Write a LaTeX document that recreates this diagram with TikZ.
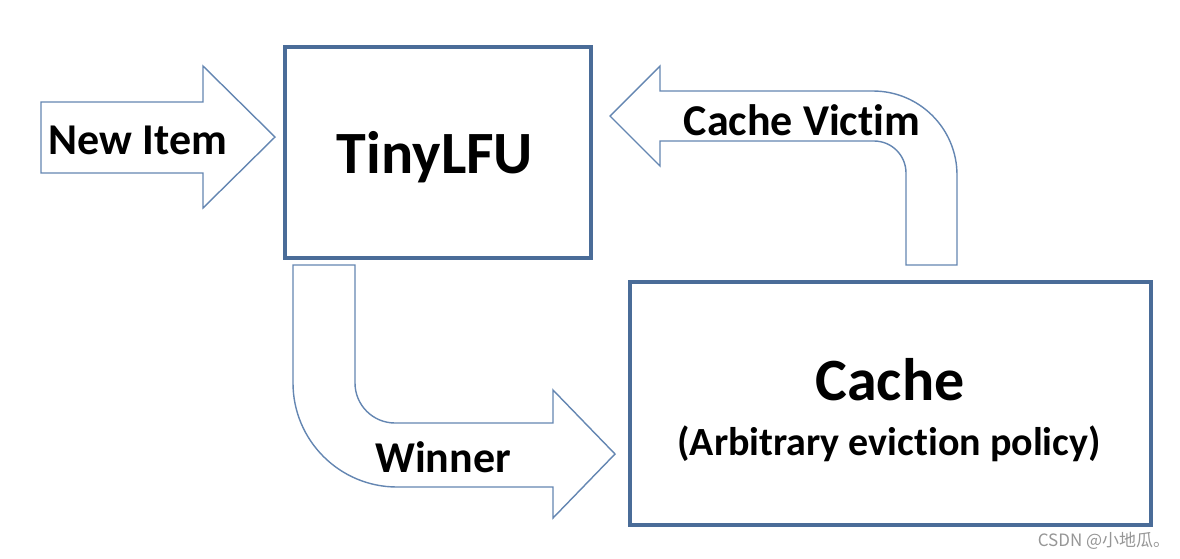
\documentclass[tikz,border=0pt]{standalone}
\usepackage{fontspec}
\newfontfamily\carl{Carlito}[BoldFont={Carlito Bold},Ligatures={NoCommon,NoDiscretionary,NoRare}]
\newfontfamily\cjk{Noto Sans CJK SC}
\definecolor{boxblue}{RGB}{74,108,152}
\definecolor{arrowblue}{RGB}{100,134,178}
\definecolor{wmgray}{RGB}{150,150,150}
\begin{document}
\begin{tikzpicture}[x=1pt,y=-1pt,
  box/.style={draw=boxblue,line width=4pt,fill=white,inner sep=0pt},
  blockarrow/.style={draw=arrowblue,line width=1.4pt,fill=white,line join=miter},
  lbl/.style={font=\carl\bfseries\fontsize{44}{50}\selectfont,inner sep=0pt,anchor=base},
  title/.style={font=\carl\bfseries\fontsize{60}{70}\selectfont,inner sep=0pt,anchor=base},
  sub/.style={font=\carl\bfseries\fontsize{40}{46}\selectfont,inner sep=0pt,anchor=base}]
\useasboundingbox[fill=white] (0,0) rectangle (1180,558);
% boxes
\node[box,minimum width=306pt,minimum height=211pt] (tiny) at (437.5,152) {};
\node[box,minimum width=521pt,minimum height=243pt] (cache) at (890.5,403.5) {};
% New Item arrow
\draw[blockarrow] (41,102) -- (203,102) -- (203,66) -- (275,137) -- (203,208) -- (203,173) -- (41,173) -- cycle;
% Cache Victim arrow
\draw[blockarrow] (610,116) -- (660,66) -- (660,91) -- (873,91)
  .. controls (919.4,91) and (957,128.6) .. (957,175) -- (957,265) -- (906,265) -- (906,173)
  .. controls (906,155.3) and (891.7,141) .. (874,141) -- (660,141) -- (660,166) -- cycle;
% Winner arrow
\draw[blockarrow] (293,265) -- (355,265) -- (355,383)
  .. controls (355,405.1) and (372.9,423) .. (395,423) -- (553,423) -- (553,390) -- (615,454)
  -- (553,518) -- (553,487) -- (397,487)
  .. controls (339.6,487) and (293,440.4) .. (293,383) -- cycle;
% labels
\node[title] (tinyt) at (435,173) {TinyLFU};
\node[title] (cachet) at (890,400) {Cache};
\node[sub] (caches) at (889,455) {(Arbitrary eviction policy)};
\node[lbl] (newitem) at (138,154) {New Item};
\node[lbl] (victim) at (802,135) {Cache Victim};
\node[lbl] (winner) at (443,472) {Winner};
\node[font=\cjk\fontsize{17}{19}\selectfont,text=wmgray,inner sep=0pt,anchor=base] (wm) at (1104,546) {CSDN @小地瓜。};
\end{tikzpicture}
\end{document}
